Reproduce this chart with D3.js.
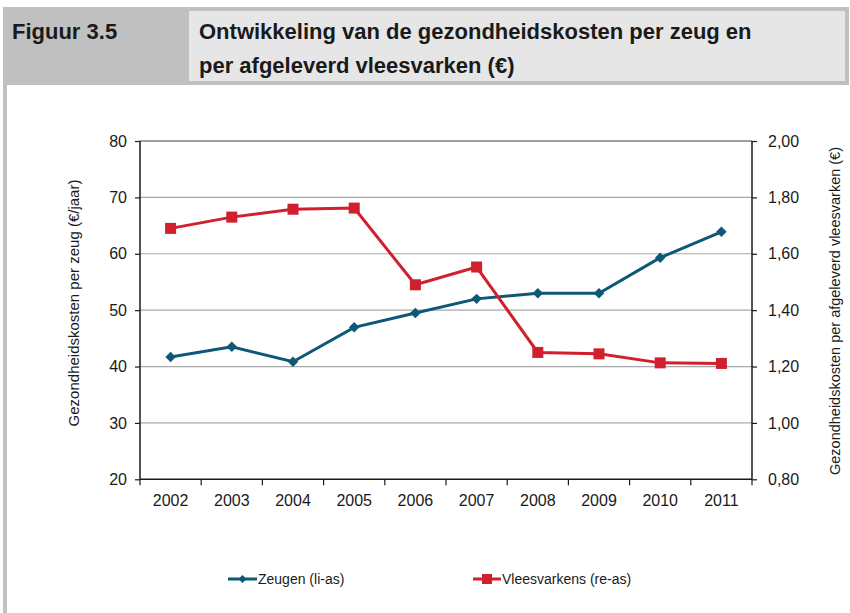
<!DOCTYPE html>
<html lang="nl">
<head>
<meta charset="UTF-8">
<title>Figuur 3.5</title>
<script src="https://d3js.org/d3.v7.min.js"></script>
<style>
  body { margin: 0; background: #fff; }
  svg { display: block; }
  text { font-family: "Liberation Sans", Arial, sans-serif; fill: #1a1a1a; }
  .titel { font-family: "Liberation Sans Narrow", "Liberation Sans", Arial, sans-serif; font-weight: bold; }
</style>
</head>
<body>
<div id="chart"></div>
<script>
// gegevens
var jaren = ["2002", "2003", "2004", "2005", "2006", "2007", "2008", "2009", "2010", "2011"];
var zeugen = [41.7, 43.5, 40.85, 46.95, 49.5, 52.0, 53.0, 53.0, 59.3, 63.9];
var vleesvarkens = [1.69, 1.73, 1.758, 1.762, 1.49, 1.553, 1.25, 1.245, 1.213, 1.211];
var linksTicks = [20, 30, 40, 50, 60, 70, 80];
var rechtsTicks = [0.8, 1.0, 1.2, 1.4, 1.6, 1.8, 2.0];

var blauw = "#0e5877", rood = "#d01f2d";

var svg = d3.select("#chart").append("svg")
    .attr("width", 850)
    .attr("height", 613);

// kader en kop
svg.append("rect").attr("x", 3).attr("y", 7).attr("width", 846).attr("height", 78).attr("fill", "#c0c0c0");
svg.append("rect").attr("x", 3).attr("y", 85).attr("width", 4).attr("height", 528).attr("fill", "#c0c0c0");
svg.append("rect").attr("x", 189).attr("y", 11).attr("width", 656).attr("height", 70).attr("fill", "#e6e6e6");

svg.append("text").attr("class", "titel").attr("x", 12).attr("y", 39)
    .style("font-size", "22px").text("Figuur 3.5");
svg.append("text").attr("class", "titel").attr("x", 199).attr("y", 39)
    .style("font-size", "22px").text("Ontwikkeling van de gezondheidskosten per zeug en");
svg.append("text").attr("class", "titel").attr("x", 199).attr("y", 73)
    .style("font-size", "22px").text("per afgeleverd vleesvarken (€)");

// schalen
var x = d3.scaleBand().domain(jaren).range([140, 752]);
var yL = d3.scaleLinear().domain([20, 80]).range([479.3, 141]);
var yR = d3.scaleLinear().domain([0.8, 2.0]).range([479.3, 141]);

var fmtR = function(d) { return d3.format(".2f")(d).replace(".", ","); };

// rasterlijnen
svg.append("g").selectAll("line")
  .data(linksTicks.slice(1, -1))
  .join("line")
    .attr("x1", 140).attr("x2", 752)
    .attr("y1", function(d) { return yL(d); })
    .attr("y2", function(d) { return yL(d); })
    .attr("stroke", "#a8a8a8").attr("stroke-width", 1.2);

svg.append("line")
    .attr("x1", 140).attr("x2", 752).attr("y1", yL(80)).attr("y2", yL(80))
    .attr("stroke", "#404040").attr("stroke-width", 1.2);

// assen
var axL = svg.append("g").attr("transform", "translate(140,0)")
    .call(d3.axisLeft(yL).tickValues(linksTicks).tickSize(5).tickPadding(8));
var axR = svg.append("g").attr("transform", "translate(752,0)")
    .call(d3.axisRight(yR).tickValues(rechtsTicks).tickFormat(fmtR).tickSize(5).tickPadding(11));
var axX = svg.append("g").attr("transform", "translate(0," + yL(20) + ")")
    .call(d3.axisBottom(x).tickSize(0).tickPadding(15));

[axL, axR, axX].forEach(function(a) {
  a.select(".domain").attr("stroke", "#1a1a1a").attr("stroke-width", 1.5);
  a.selectAll(".tick line").attr("stroke", "#1a1a1a").attr("stroke-width", 1.2);
  a.selectAll("text").style("font-size", "16px").attr("fill", "#1a1a1a")
    .style("font-family", "'Liberation Sans', Arial, sans-serif");
});
axL.select(".domain").attr("d", "M0,141V479.3");
axR.select(".domain").attr("d", "M0,141V479.3");
axX.select(".domain").attr("d", "M140,0H752");

// tickstreepjes op de categoriegrenzen
svg.append("g").selectAll("line")
  .data(jaren.concat(["eind"]))
  .join("line")
    .attr("x1", function(d, i) { return 140 + i * x.step(); })
    .attr("x2", function(d, i) { return 140 + i * x.step(); })
    .attr("y1", yL(20)).attr("y2", yL(20) + 6)
    .attr("stroke", "#1a1a1a").attr("stroke-width", 1.2);

// astitels
svg.append("text")
    .attr("transform", "translate(79,303) rotate(-90)")
    .attr("text-anchor", "middle")
    .style("font-size", "15px")
    .text("Gezondheidskosten per zeug (€/jaar)");
svg.append("text")
    .attr("transform", "translate(840,311) rotate(-90)")
    .attr("text-anchor", "middle")
    .style("font-size", "14.5px")
    .text("Gezondheidskosten per afgeleverd vleesvarken (€)");

// lijnen
var cx = function(d, i) { return x(jaren[i]) + x.bandwidth() / 2; };

svg.append("path")
    .datum(zeugen)
    .attr("fill", "none").attr("stroke", blauw).attr("stroke-width", 3)
    .attr("d", d3.line().x(cx).y(function(d) { return yL(d); }));

svg.append("path")
    .datum(vleesvarkens)
    .attr("fill", "none").attr("stroke", rood).attr("stroke-width", 3)
    .attr("d", d3.line().x(cx).y(function(d) { return yR(d); }));

var ruit = d3.symbol().type(d3.symbolDiamond2).size(70);

svg.append("g").selectAll("path")
  .data(zeugen)
  .join("path")
    .attr("d", ruit)
    .attr("transform", function(d, i) { return "translate(" + cx(d, i) + "," + yL(d) + ")"; })
    .attr("fill", blauw);

svg.append("g").selectAll("rect")
  .data(vleesvarkens)
  .join("rect")
    .attr("x", function(d, i) { return cx(d, i) - 5.5; })
    .attr("y", function(d) { return yR(d) - 5.5; })
    .attr("width", 11).attr("height", 11)
    .attr("fill", rood);

// legenda
var legY = 579;
var leg = svg.append("g");
leg.append("line").attr("x1", 228).attr("x2", 257).attr("y1", legY).attr("y2", legY)
    .attr("stroke", blauw).attr("stroke-width", 3);
leg.append("path").attr("d", d3.symbol().type(d3.symbolDiamond2).size(40))
    .attr("transform", "translate(242.5," + legY + ")").attr("fill", blauw);
leg.append("text").attr("x", 258).attr("y", legY + 5).style("font-size", "14px").text("Zeugen (li-as)");

leg.append("line").attr("x1", 473).attr("x2", 501).attr("y1", legY).attr("y2", legY)
    .attr("stroke", rood).attr("stroke-width", 3);
leg.append("rect").attr("x", 482).attr("y", legY - 5).attr("width", 10).attr("height", 10).attr("fill", rood);
leg.append("text").attr("x", 502).attr("y", legY + 5).style("font-size", "14px").text("Vleesvarkens (re-as)");
</script>
</body>
</html>
